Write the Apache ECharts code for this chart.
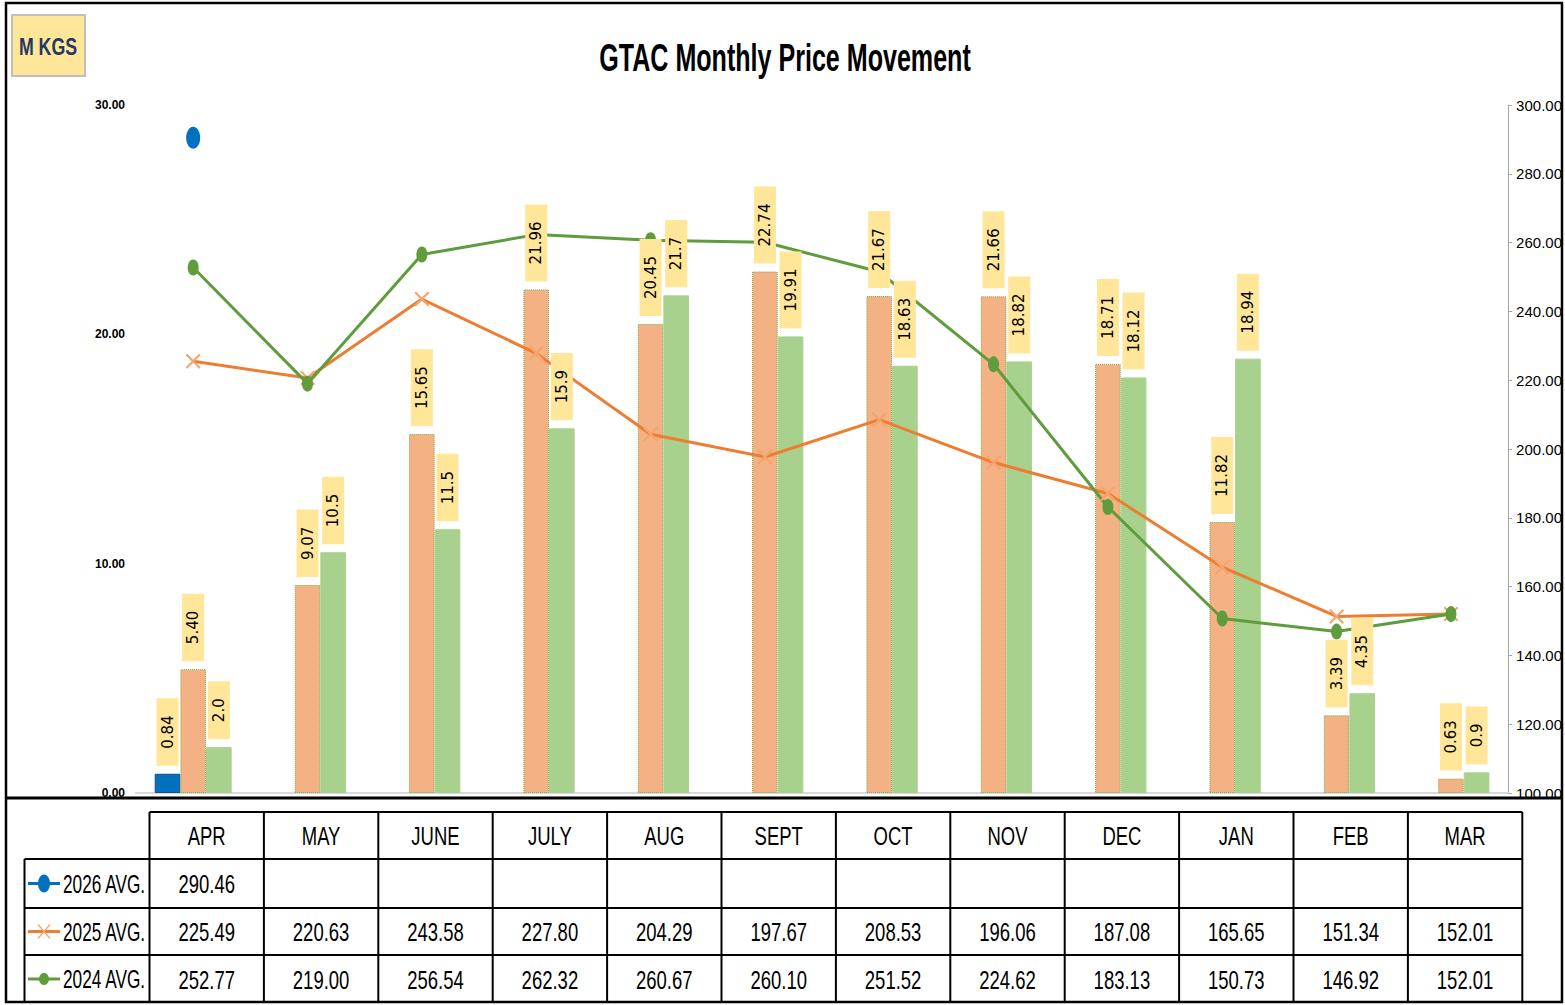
<!DOCTYPE html>
<html lang="en">
<head>
<meta charset="UTF-8">
<title>GTAC Monthly Price Movement</title>
<script src="https://cdn.jsdelivr.net/npm/echarts@6/dist/echarts.min.js"></script>
<style>
  html, body { margin: 0; padding: 0; background: #fff; }
  #main { width: 1565px; height: 1005px; }
</style>
</head>
<body>
<div id="main"></div>
<script>
// months (table header + category axis)
var months = ['APR', 'MAY', 'JUNE', 'JULY', 'AUG', 'SEPT', 'OCT', 'NOV', 'DEC', 'JAN', 'FEB', 'MAR'];

// volume bars, M KGS (left axis)
var kgs2026 = [0.84, null, null, null, null, null, null, null, null, null, null, null];
var kgs2025 = [5.40, 9.07, 15.65, 21.96, 20.45, 22.74, 21.67, 21.66, 18.71, 11.82, 3.39, 0.63];
var kgs2024 = [2.0, 10.5, 11.5, 15.9, 21.7, 19.91, 18.63, 18.82, 18.12, 18.94, 4.35, 0.9];
var kgs2024Text = ['2.0', '10.5', '11.5', '15.9', '21.7', '19.91', '18.63', '18.82', '18.12', '18.94', '4.35', '0.9'];

// average prices (right axis)
var avg2026 = [290.46, null, null, null, null, null, null, null, null, null, null, null];
var avg2025 = [225.49, 220.63, 243.58, 227.80, 204.29, 197.67, 208.53, 196.06, 187.08, 165.65, 151.34, 152.01];
var avg2024 = [252.77, 219.00, 256.54, 262.32, 260.67, 260.10, 251.52, 224.62, 183.13, 150.73, 146.92, 152.01];
var rowNames = ['2026 AVG.', '2025 AVG.', '2024 AVG.'];

var FONT = "'Liberation Sans Narrow', 'Liberation Sans', Arial, sans-serif";
var SQUEEZE = 0.74; // text in the original is a condensed face
var C_BLUE = '#0070C0', C_ORANGE = '#ED7D31', C_ORANGE_BAR = '#F4B183',
    C_GREEN = '#5E9C3C', C_GREEN_BAR = '#A9D18E', C_LABEL = '#FFE699', C_XMARK = '#F4A46C';
var X_PATH = 'path://M1,0L5,4L9,0L10,1L6,5L10,9L9,10L5,6L1,10L0,9L4,5L0,1Z';

var chart = echarts.init(document.getElementById('main'), null, { renderer: 'svg' });

function barLabel(fmt) {
    return {
        show: true,
        position: 'top',
        distance: 8,
        rotate: 90,
        align: 'left',
        verticalAlign: 'middle',
        backgroundColor: C_LABEL,
        padding: [4, 17, 3, 17],
        fontFamily: 'DejaVu Sans',
        fontSize: 15,
        color: '#000',
        formatter: fmt
    };
}

// bars drawn under the lines, their labels drawn again on top (second hidden x axis)
var barDefs = [
    { name: '2026', data: kgs2026, color: C_BLUE, border: '#1F4E79', type: 'solid',
      fmt: function (p) { return p.value.toFixed(2); } },
    { name: '2025', data: kgs2025, color: C_ORANGE_BAR, border: '#70AD47', type: 'dotted',
      fmt: function (p) { return p.value.toFixed(2); } },
    { name: '2024', data: kgs2024, color: C_GREEN_BAR, border: C_GREEN_BAR, type: 'solid',
      fmt: function (p) { return kgs2024Text[p.dataIndex]; } }
];

var series = [];
barDefs.forEach(function (b) {
    series.push({
        name: b.name, type: 'bar', xAxisIndex: 0, yAxisIndex: 0, z: 1,
        barGap: '0%', barCategoryGap: '32.7%',
        data: b.data,
        itemStyle: { color: b.color, borderColor: b.border, borderWidth: 1, borderType: b.type }
    });
});
barDefs.forEach(function (b) {
    series.push({
        name: b.name + ' label', type: 'bar', xAxisIndex: 1, yAxisIndex: 0, z: 5, silent: true,
        barGap: '0%', barCategoryGap: '32.7%',
        data: b.data,
        itemStyle: { color: 'rgba(0,0,0,0)' },
        label: barLabel(b.fmt)
    });
});
series.push({
    name: rowNames[0], type: 'line', xAxisIndex: 0, yAxisIndex: 1, z: 3,
    data: avg2026, symbol: 'circle', symbolSize: [14, 22],
    itemStyle: { color: C_BLUE }, lineStyle: { color: C_BLUE, width: 3 }
});
series.push({
    name: rowNames[1], type: 'line', xAxisIndex: 0, yAxisIndex: 1, z: 3,
    data: avg2025, symbol: X_PATH, symbolSize: 15,
    itemStyle: { color: C_XMARK }, lineStyle: { color: C_ORANGE, width: 3 }
});
series.push({
    name: rowNames[2], type: 'line', xAxisIndex: 0, yAxisIndex: 1, z: 3,
    data: avg2024, symbol: 'circle', symbolSize: [11, 16],
    itemStyle: { color: C_GREEN }, lineStyle: { color: C_GREEN, width: 3 }
});

// ---- data table and decorations ----
var tx0 = 149.5, colW = 114.4, legX = 24.5;
var rowY = [812, 859, 908, 955, 1003];
var tRight = tx0 + months.length * colW;
var g = [];
var L = function (x1, y1, x2, y2, w, col) {
    g.push({ type: 'line', shape: { x1: x1, y1: y1, x2: x2, y2: y2 },
        style: { stroke: col || '#000', lineWidth: w || 2 }, silent: true });
};
var T = function (x, y, text, size, align, sx) {
    g.push({ type: 'text', x: x, y: y, scaleX: sx || SQUEEZE, silent: true,
        style: { text: text, fill: '#000', font: 'normal ' + size + 'px ' + FONT,
            align: align || 'center', verticalAlign: 'middle' } });
};

// outer frame + separator
g.push({ type: 'rect', shape: { x: 6, y: 3, width: 1556, height: 999 },
    style: { fill: 'none', stroke: '#000', lineWidth: 2.5 }, silent: true });
L(6, 798, 1562, 798, 3);

// grid lines of the table
L(tx0, rowY[0], tRight, rowY[0]);
for (var r = 1; r < 4; r++) L(legX, rowY[r], tRight, rowY[r]);
L(legX, rowY[1], legX, rowY[4]);
for (var c = 0; c <= months.length; c++) L(tx0 + c * colW, rowY[0], tx0 + c * colW, rowY[4]);

var rowVals = [avg2026, avg2025, avg2024];
months.forEach(function (m, i) {
    var cx = tx0 + (i + 0.5) * colW;
    T(cx, (rowY[0] + rowY[1]) / 2 + 1, m, 25);
    rowVals.forEach(function (vals, k) {
        if (vals[i] != null) T(cx, (rowY[k + 1] + rowY[k + 2]) / 2 + 1, vals[i].toFixed(2), 25);
    });
});

// legend keys in the table
var keyCol = [C_BLUE, C_ORANGE, C_GREEN];
rowNames.forEach(function (nm, k) {
    var cy = (rowY[k + 1] + rowY[k + 2]) / 2;
    L(28, cy, 60, cy, 3, keyCol[k]);
    if (k === 0) g.push({ type: 'ellipse', shape: { cx: 44, cy: cy, rx: 6, ry: 9 }, style: { fill: C_BLUE }, silent: true });
    if (k === 1) { L(38, cy - 7, 50, cy + 7, 1.2, C_XMARK); L(50, cy - 7, 38, cy + 7, 1.2, C_XMARK); }
    if (k === 2) g.push({ type: 'ellipse', shape: { cx: 44, cy: cy, rx: 5, ry: 6 }, style: { fill: C_GREEN }, silent: true });
    T(63, cy + 1, nm, 25, 'left', 0.69);
});

// unit box
g.push({ type: 'rect', shape: { x: 12, y: 15, width: 73, height: 61 },
    style: { fill: C_LABEL, stroke: '#BFBFBF', lineWidth: 2 }, silent: true });
g.push({ type: 'text', x: 48, y: 46, scaleX: SQUEEZE, silent: true,
    style: { text: 'M KGS', fill: '#1F3864', font: 'bold 24px ' + FONT, align: 'center', verticalAlign: 'middle' } });

// title
g.push({ type: 'text', x: 785, y: 58, scaleX: 0.66, silent: true,
    style: { text: 'GTAC Monthly Price Movement', fill: '#000', font: 'bold 38px ' + FONT,
        align: 'center', verticalAlign: 'middle' } });

var option = {
    backgroundColor: '#fff',
    animation: false,
    grid: { left: 136, right: 54, top: 105, bottom: 212 },
    xAxis: [
        { type: 'category', data: months,
          axisLine: { lineStyle: { color: '#D9D9D9', width: 2 } },
          axisTick: { show: false }, axisLabel: { show: false } },
        { type: 'category', data: months, show: false }
    ],
    yAxis: [
        { type: 'value', min: 0, max: 30, interval: 10, position: 'left',
          axisLine: { show: false }, axisTick: { show: false }, splitLine: { show: false },
          axisLabel: { formatter: function (v) { return v.toFixed(2); }, color: '#000',
              fontFamily: FONT, fontWeight: 'bold', fontSize: 12, margin: 11 } },
        { type: 'value', min: 100, max: 300, interval: 20, position: 'right',
          axisLine: { show: true, lineStyle: { color: '#A6A6A6', width: 1 } },
          axisTick: { show: true, length: 4, lineStyle: { color: '#A6A6A6' } },
          splitLine: { show: false },
          axisLabel: { formatter: function (v) { return v.toFixed(2); }, color: '#000',
              fontFamily: FONT, fontSize: 15, margin: 8 } }
    ],
    graphic: g,
    series: series
};
chart.setOption(option);
</script>
</body>
</html>
